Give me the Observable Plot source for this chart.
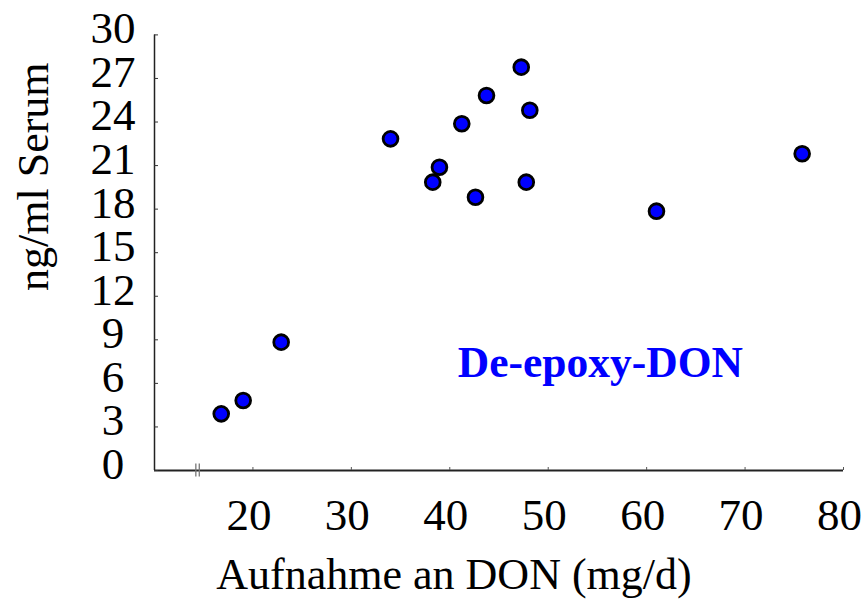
<!DOCTYPE html>
<html>
<head>
<meta charset="utf-8">
<script src="https://cdn.jsdelivr.net/npm/d3@7"></script>
<script src="https://cdn.jsdelivr.net/npm/@observablehq/plot@0.6"></script>
<style>
  html, body { margin: 0; padding: 0; background: white; }
</style>
</head>
<body>
<div id="chart"></div>
<script>
const intake = [16.78, 19.01, 22.87, 33.98, 38.27, 38.95, 41.22, 42.61, 43.73, 47.26, 47.77, 48.13, 61.0, 75.8];
const serum  = [3.90, 4.82, 8.84, 22.84, 19.86, 20.89, 23.88, 18.82, 25.83, 27.78, 19.86, 24.81, 17.86, 21.81];
const xTicks = [20, 30, 40, 50, 60, 70, 80];
const yTicks = [0, 3, 6, 9, 12, 15, 18, 21, 24, 27, 30];
const breakMarks = [14.2, 14.55];
const xTitle = "Aufnahme an DON (mg/d)";
const yTitle = "ng/ml Serum";
const annotation = [{x: 55.3, y: 7.4, text: "De-epoxy-DON"}];

const points = intake.map((x, i) => ({x, y: serum[i]}));

const W = 861, H = 601;
const mL = 154, mR = 18, mT = 34.4, mB = 131;
const fw = W - mL - mR, fh = H - mT - mB;
const serif = "'Liberation Serif', 'Times New Roman', Times, serif";

const chart = Plot.plot({
  width: W, height: H,
  marginLeft: mL, marginRight: mR, marginTop: mT, marginBottom: mB,
  x: {domain: [10, 80]},
  y: {domain: [0, 30]},
  style: {fontFamily: serif, background: "white", color: "black"},
  marks: [
    Plot.ruleY([0], {stroke: "#222", strokeWidth: 2}),
    Plot.ruleX([10], {y1: 0, y2: 30, stroke: "#222", strokeWidth: 1.5}),
    Plot.tickY(yTicks, {y: d => d, insetRight: fw - 4, stroke: "#333", strokeWidth: 1}),
    Plot.tickX(xTicks, {x: d => d, insetTop: fh - 3, stroke: "#555", strokeWidth: 1}),
    Plot.ruleX(breakMarks, {y1: -0.45, y2: 0.45, stroke: "#777", strokeWidth: 1.3}),
    Plot.axisX(xTicks, {tickSize: 0, tickPadding: 28, fontSize: 45, label: null, dx: -4}),
    Plot.axisY(yTicks, {tickSize: 0, tickPadding: 41.5, fontSize: 45, label: null, textAnchor: "middle", dy: -6}),
    Plot.text([xTitle], {frameAnchor: "bottom", dx: -45, dy: 104, fontSize: 44, lineAnchor: "middle", textAnchor: "middle"}),
    Plot.text([yTitle], {frameAnchor: "left", dx: -121, dy: -76, rotate: -90, fontSize: 44, lineAnchor: "middle", textAnchor: "middle"}),
    Plot.text(annotation, {x: "x", y: "y", text: "text", fontSize: 43.5, fontWeight: "bold", fill: "#0000ff", textAnchor: "middle", lineAnchor: "middle"}),
    Plot.dot(points, {x: "x", y: "y", r: 7.4, fill: "#0000ff", stroke: "black", strokeWidth: 2.8})
  ]
});
document.getElementById("chart").appendChild(chart);
</script>
</body>
</html>
